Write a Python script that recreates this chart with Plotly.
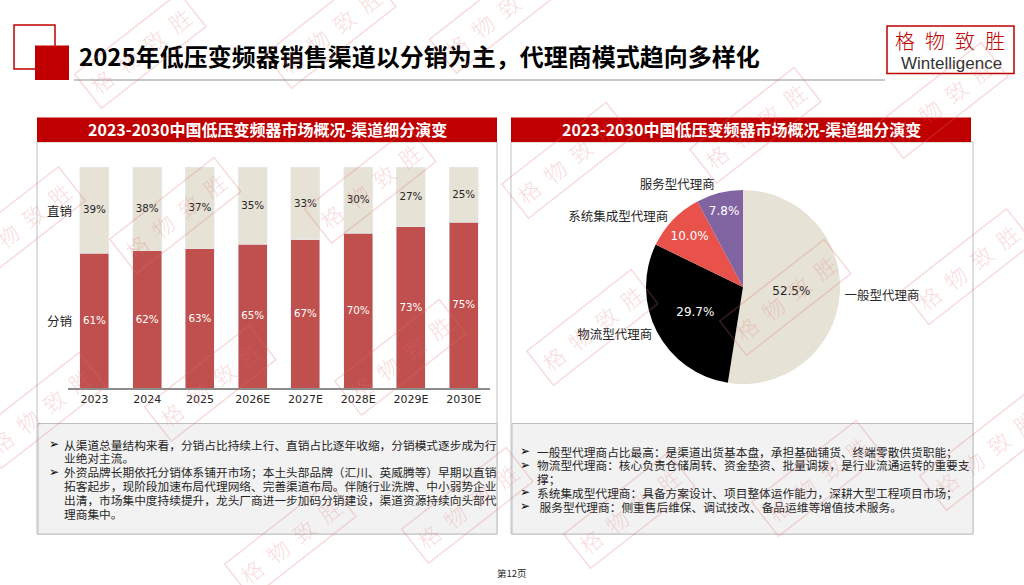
"""2025年低压变频器销售渠道结构：分销/直销堆叠柱 + 代理商类型饼图（单页幻灯片）。"""

import plotly.graph_objects as go

W, H = 1024, 585

# 左图：渠道结构（%）
YEARS = ["2023", "2024", "2025", "2026E", "2027E", "2028E", "2029E", "2030E"]
DISTRIBUTION = [61, 62, 63, 65, 67, 70, 73, 75]
DIRECT = [39, 38, 37, 35, 33, 30, 27, 25]

# 右图：代理商类型占比（%）
AGENT_TYPES = ["一般型代理商", "物流型代理商", "系统集成型代理商", "服务型代理商"]
AGENT_SHARE = [52.5, 29.7, 10.0, 7.8]

TITLE = "2025年低压变频器销售渠道以分销为主，代理商模式趋向多样化"
PANEL_TITLE = "2023-2030中国低压变频器市场概况-渠道细分演变"

LEFT_NOTES = [
    ("➢", "从渠道总量结构来看，分销占比持续上行、直销占比逐年收缩，分销模式逐步成为行"),
    ("", "业绝对主流。"),
    ("➢", "外资品牌长期依托分销体系铺开市场；本土头部品牌（汇川、英威腾等）早期以直销"),
    ("", "拓客起步，现阶段加速布局代理网络、完善渠道布局。伴随行业洗牌、中小弱势企业"),
    ("", "出清，市场集中度持续提升，龙头厂商进一步加码分销建设，渠道资源持续向头部代"),
    ("", "理商集中。"),
]
RIGHT_NOTES = [
    ("➢", "一般型代理商占比最高：是渠道出货基本盘，承担基础铺货、终端零散供货职能；"),
    ("➢", "物流型代理商：核心负责仓储周转、资金垫资、批量调拨，是行业流通运转的重要支"),
    ("", "撑；"),
    ("➢", "系统集成型代理商：具备方案设计、项目整体运作能力，深耕大型工程项目市场；"),
    ("➢", " 服务型代理商：侧重售后维保、调试技改、备品运维等增值技术服务。"),
]

# 水印“格物致胜”的中心位置（像素）
WATERMARKS = [
    (140, 50), (330, 30), (495, 15), (20, 225), (175, 215), (370, 185),
    (567, 160), (755, 125), (942, 100), (40, 410), (210, 383), (400, 357),
    (592, 327), (785, 297), (968, 267), (290, 540), (467, 505), (629, 510),
    (817, 478), (985, 452),
]

RED = "#C00000"
CJK = "Noto Sans CJK SC"
NUM = "DejaVu Sans"


def px(x):
    return x / W


def py(y):
    return 1 - y / H


def rect(x0, y0, x1, y1, fill=None, line=None, lw=1):
    return dict(
        type="rect", xref="paper", yref="paper", layer="below",
        x0=px(x0), x1=px(x1), y0=py(y1), y1=py(y0),
        fillcolor=fill or "rgba(0,0,0,0)",
        line=dict(color=line or "rgba(0,0,0,0)", width=lw if line else 0),
    )


def text(x, y, s, size, color="#262626", family=CJK, xanchor="left", weight="normal", **kw):
    return dict(
        xref="paper", yref="paper", x=px(x), y=py(y), text=s, showarrow=False,
        xanchor=xanchor, yanchor="middle",
        font=dict(family=family, size=size, color=color, weight=weight), **kw,
    )


fig = go.Figure()

fig.add_trace(go.Bar(
    x=YEARS, y=DISTRIBUTION, name="分销", marker_color="#C0504D",
    text=[f"{v}%" for v in DISTRIBUTION], textposition="inside",
    insidetextanchor="middle", textangle=0,
    textfont=dict(family=NUM, size=11, color="white"),
))
fig.add_trace(go.Bar(
    x=YEARS, y=DIRECT, name="直销", marker_color="#E6E2D5",
    text=[f"{v}%" for v in DIRECT], textposition="inside",
    insidetextanchor="middle", textangle=0,
    textfont=dict(family=NUM, size=11, color="#262626"),
))

pie_domain = dict(x=[px(646), px(840)], y=[py(385), py(189)])
fig.add_trace(go.Pie(
    labels=AGENT_TYPES, values=AGENT_SHARE, sort=False, direction="clockwise",
    rotation=0, domain=pie_domain,
    marker=dict(colors=["#E6E2D5", "#000000", "#E9524A", "#8064A2"], line=dict(width=0)),
    texttemplate="%{value:.1f}%", textposition="inside", insidetextorientation="horizontal",
    textfont=dict(family=NUM, size=12, color=["#262626", "white", "white", "white"]),
    hoverinfo="skip",
))
fig.add_trace(go.Pie(
    labels=AGENT_TYPES, values=AGENT_SHARE, sort=False, direction="clockwise",
    rotation=0, domain=pie_domain,
    marker=dict(colors=["rgba(0,0,0,0)"] * 4, line=dict(width=0)),
    textinfo="label", textposition="outside",
    outsidetextfont=dict(family=CJK, size=12.5, color="#262626"),
    hoverinfo="skip",
))

shapes = [
    rect(14, 25, 55, 69, line=RED, lw=1.5),
    rect(35, 45.5, 69, 80, fill=RED),
    dict(type="line", xref="paper", yref="paper", layer="below",
         x0=px(74), x1=px(885), y0=py(80), y1=py(80), line=dict(color="#C8C8C8", width=2)),
    rect(887, 26, 1014, 73.5, fill="white", line=RED, lw=1.5),
    rect(37, 142, 497, 534, line="#BFBFBF"),
    rect(511, 142, 973, 534, line="#BFBFBF"),
    rect(37, 117.5, 497, 142, fill=RED),
    rect(511, 117.5, 971, 142, fill=RED),
    rect(38, 423.5, 497, 534, fill="#F2F2F2", line="#BFBFBF"),
    rect(512, 423.5, 973, 534, fill="#F2F2F2", line="#BFBFBF"),
]

ann = [
    text(77, 56, TITLE, 24, color="#000000", weight="bold"),
    text(950, 41, "格\u2002物\u2002致\u2002胜", 20, color=RED, xanchor="center", weight=300),
    text(951, 63, "Wintelligence", 17, color="#333333", family="Liberation Sans", xanchor="center"),
    text(267, 129, PANEL_TITLE, 16, color="white", xanchor="center", weight="bold"),
    text(741, 129, PANEL_TITLE, 16, color="white", xanchor="center", weight="bold"),
    text(512, 573, "第12页", 9.5, color="#262626", xanchor="center"),
]

# 左图行标签
for label, yv in [("直销", DISTRIBUTION[0] + DIRECT[0] / 2), ("分销", DISTRIBUTION[0] / 2)]:
    ann.append(dict(
        xref="paper", yref="y", x=px(59), y=yv, text=label, showarrow=False,
        xanchor="center", yanchor="middle", font=dict(family=CJK, size=12.5, color="#262626"),
    ))

# 文字说明框
for notes, x_bullet, x_text, y_top in [(LEFT_NOTES, 47, 62, 444), (RIGHT_NOTES, 518, 535, 451)]:
    for i, (bullet, line) in enumerate(notes):
        y = y_top + i * 13.8
        if bullet:
            ann.append(text(x_bullet, y, bullet, 12, color="#000000", family=NUM))
        ann.append(text(x_text, y, line, 11.7, color="#262626"))

# 水印
for cx, cy in WATERMARKS:
    ann.append(dict(
        xref="paper", yref="paper", x=px(cx), y=py(cy), text="格\u2002物\u2002致\u2002胜",
        showarrow=False, textangle=-38, xanchor="center", yanchor="middle",
        font=dict(family=CJK, size=22, color="rgba(225,110,110,0.25)", weight=300),
        bordercolor="rgba(225,110,110,0.25)", borderwidth=1.5, borderpad=5,
    ))

fig.update_layout(
    width=W, height=H, margin=dict(l=0, r=0, t=0, b=0),
    paper_bgcolor="white", plot_bgcolor="rgba(0,0,0,0)",
    showlegend=False, barmode="stack", bargap=0.45,
    xaxis=dict(domain=[px(68), px(490)], showline=True, linecolor="#8C8C8C", linewidth=1.5,
               ticks="", showgrid=False, tickfont=dict(family=NUM, size=11, color="#262626"),
               fixedrange=True),
    yaxis=dict(domain=[py(388), py(167)], range=[0, 100], visible=False, fixedrange=True),
    shapes=shapes, annotations=ann,
)

# 页面默认 body 边距 8px，去掉以便整页对齐
fig.write_html(
    "out.html",
    config={"displayModeBar": False},
    post_script="document.body.style.margin='0';document.body.style.overflow='hidden';",
)
